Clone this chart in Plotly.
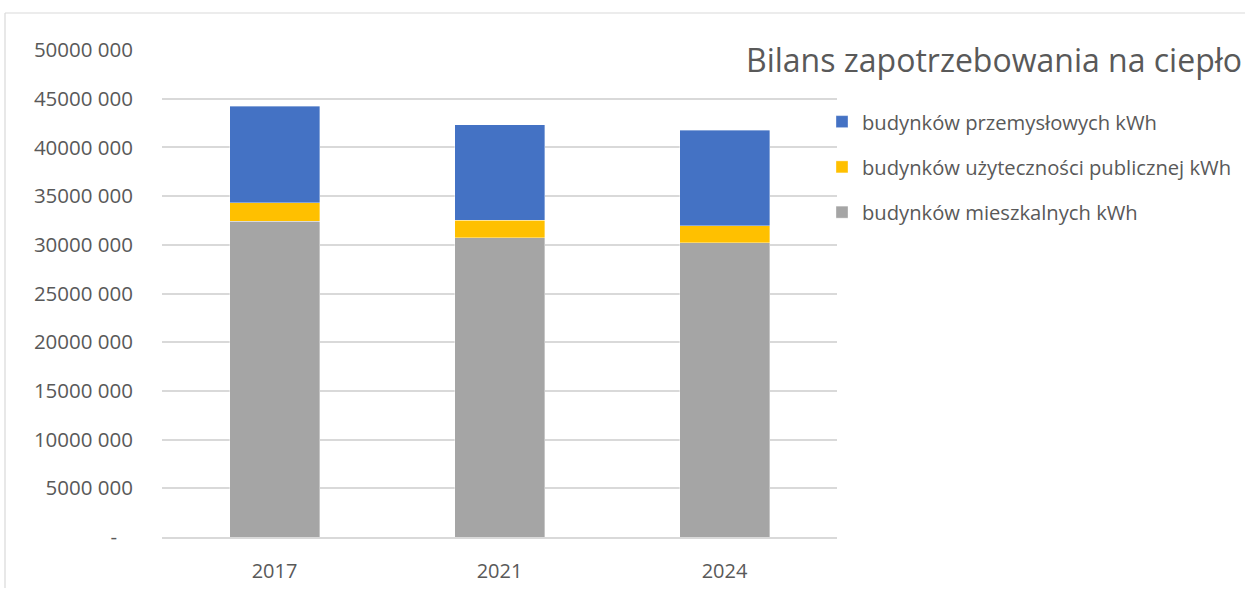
import plotly.graph_objects as go

years = ["2017", "2021", "2024"]
mieszkalne = [32400000, 30730000, 30220000]
uzytecznosci = [1900000, 1770000, 1740000]
przemyslowe = [9950000, 9830000, 9790000]

series_names = [
    "budynków mieszkalnych kWh",
    "budynków użyteczności publicznej kWh",
    "budynków przemysłowych kWh",
]
colors = ["#A5A5A5", "#FFC000", "#4472C4"]
legend_ranks = [3, 2, 1]

y_tickvals = [0, 5000000, 10000000, 15000000, 20000000, 25000000,
              30000000, 35000000, 40000000, 45000000, 50000000]
y_ticktext = ["-   ", "5000 000", "10000 000", "15000 000", "20000 000", "25000 000",
              "30000 000", "35000 000", "40000 000", "45000 000", "50000 000"]

title_text = "Bilans zapotrzebowania na ciepło"

FONT = "Open Sans, Lato, sans-serif"
TXT = "#595959"
BORDER = "#D9D9D9"

fig = go.Figure()
for name, vals, col, rk in zip(series_names, [mieszkalne, uzytecznosci, przemyslowe], colors, legend_ranks):
    fig.add_trace(go.Bar(
        x=years, y=vals, name=name,
        marker=dict(color=col, line=dict(color="rgba(255,255,255,0.6)", width=0.6)),
        legendgroup=name, legendrank=rk,
    ))

W, H = 1247, 590
ml, mt = 162, 50
plot_right, plot_bottom = 837, 537
mr = W - plot_right
mb = H - plot_bottom
pw = W - ml - mr
ph = H - mt - mb

def px_x(px):
    return (px - ml) / pw

def px_y(py):
    return (plot_bottom - py) / ph

fig.update_layout(
    width=W, height=H,
    margin=dict(l=ml, r=mr, t=mt, b=mb, pad=0, autoexpand=False),
    barmode="stack",
    bargap=0.6,
    plot_bgcolor="white",
    paper_bgcolor="white",
    font=dict(family=FONT, color=TXT),
    showlegend=True,
    legend=dict(
        xref="container", yref="container",
        x=822 / W, y=1 - 102 / H, xanchor="left", yanchor="top",
        traceorder="grouped",
        tracegroupgap=16,
        font=dict(size=20.2, color=TXT, family=FONT),
        bgcolor="rgba(0,0,0,0)",
        itemwidth=30,
    ),
    xaxis=dict(
        type="category",
        automargin=False,
        showgrid=False,
        showline=True, linecolor=BORDER, linewidth=1.5,
        ticks="",
        tickfont=dict(size=20, color=TXT, family=FONT),
        ticklabelstandoff=15,
    ),
    yaxis=dict(
        range=[0, 50000000],
        automargin=False,
        tickvals=y_tickvals, ticktext=y_ticktext,
        showgrid=True, gridcolor=BORDER, gridwidth=1.5,
        zeroline=False,
        showline=False,
        ticks="",
        tickfont=dict(size=20.5, color=TXT, family=FONT),
        ticklabelstandoff=28,
    ),
    annotations=[dict(
        text=title_text, xref="paper", yref="paper",
        x=px_x(1244), y=px_y(60), xanchor="right", yanchor="middle",
        showarrow=False, bgcolor="white",
        font=dict(size=32, color=TXT, family=FONT),
    )],
    shapes=[
        dict(type="line", xref="paper", yref="paper",
             x0=px_x(5), x1=px_x(5), y0=px_y(H - 2), y1=px_y(13),
             line=dict(color=BORDER, width=1.2), layer="below"),
        dict(type="line", xref="paper", yref="paper",
             x0=px_x(5), x1=px_x(W - 2), y0=px_y(13), y1=px_y(13),
             line=dict(color=BORDER, width=1.2), layer="below"),
    ],
)

fig.write_html(
    "out.html",
    post_script="document.body.style.margin='0';document.body.style.overflow='hidden';",
    config={"displayModeBar": False},
)
